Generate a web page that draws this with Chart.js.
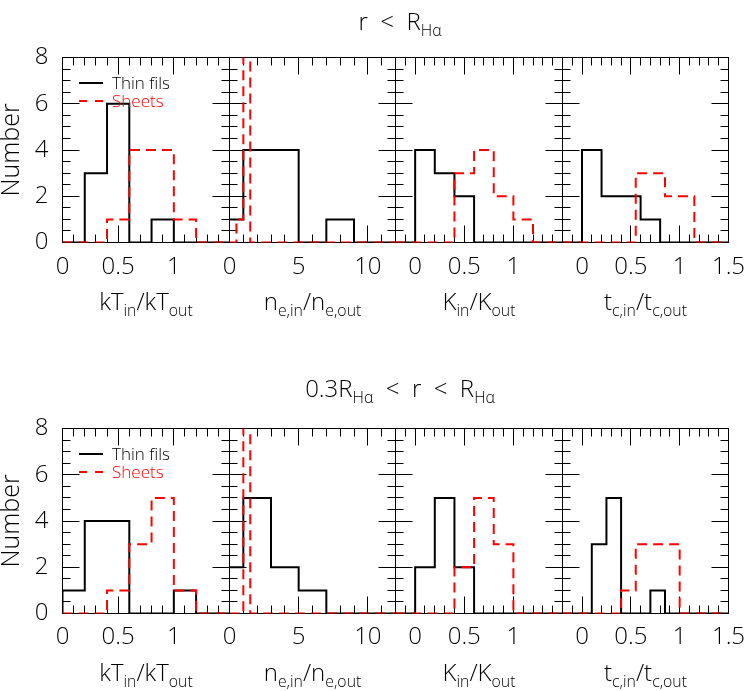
<!DOCTYPE html>
<html><head><meta charset="utf-8">
<script src="https://cdn.jsdelivr.net/npm/chart.js@4.4.1/dist/chart.umd.min.js"></script>
<style>
html,body{margin:0;padding:0;background:#fff;width:747px;height:691px;overflow:hidden;}
#wrap{position:relative;width:747px;height:691px;font-family:"Open Sans",sans-serif;font-weight:300;color:#000}
canvas{position:absolute}
.t{position:absolute;white-space:nowrap;font-size:24px;line-height:1;transform:translate(-50%,-50%)}
.t sub{font-size:0.66em;vertical-align:-0.4em;line-height:0}
.leg{position:absolute;white-space:nowrap;font-size:17px;line-height:1;transform:translateY(-50%)}
.ln{position:absolute;height:2px}
</style></head><body><div id="wrap"></div>
<script>
// ---------- data ----------
// bin edges
const kTEdges      = [0, 0.2, 0.4, 0.6, 0.8, 1.0, 1.2];
const neThinEdges  = [-1, 1, 3, 5, 7, 9, 11];
const neSheetEdges = [0, 0.5, 1.0, 1.5, 2.0];
const KEdges       = [0, 0.2, 0.4, 0.6, 0.8, 1.0, 1.2];
const tcThinEdgesIn  = [0, 0.2, 0.4, 0.6, 0.8];
const tcSheetEdgesIn = [0.55, 0.7, 0.85, 1.0, 1.15];
const tcEdgesOut     = [0.1, 0.25, 0.4, 0.55, 0.7, 0.85, 1.0];

// r < R_Halpha
const inKTThin   = [0, 3, 6, 0, 1, 0];
const inKTSheets = [0, 0, 1, 4, 4, 1];
const inNeThin   = [1, 4, 4, 0, 1, 0];
const inNeSheets = [0, 1, 9, 0];
const inKThin    = [4, 3, 2, 0, 0, 0];
const inKSheets  = [0, 0, 3, 4, 2, 1];
const inTcThin   = [4, 2, 2, 1];
const inTcSheets = [3, 3, 2, 2];

// 0.3 R_Halpha < r < R_Halpha
const outKTThin   = [1, 4, 4, 0, 0, 1];
const outKTSheets = [0, 0, 1, 3, 5, 1];
const outNeThin   = [2, 5, 2, 1, 0, 0];
const outNeSheets = [0, 0, 10, 0];
const outKThin    = [2, 5, 2, 0, 0, 0];
const outKSheets  = [0, 0, 2, 5, 3, 0];
const outTcThin   = [3, 5, 0, 0, 1, 0];
const outTcSheets = [0, 0, 1, 3, 3, 3];

// axes
const xRanges   = [[0, 1.5], [0, 12], [-0.2, 1.5], [-0.2, 1.5]];
const xTickVals = [[0, 0.5, 1], [0, 5, 10], [0, 0.5, 1], [0, 0.5, 1, 1.5]];
const xMinor    = [0.1, 1, 0.1, 0.1];
const xMajor    = [0.5, 5, 0.5, 0.5];
const yRange    = [0, 8];
const yTickVals = [0, 2, 4, 6, 8];
const seriesNames = ['Thin fils', 'Sheets'];

const panels = [
  [[kTEdges, inKTThin, kTEdges, inKTSheets], [neThinEdges, inNeThin, neSheetEdges, inNeSheets],
   [KEdges, inKThin, KEdges, inKSheets], [tcThinEdgesIn, inTcThin, tcSheetEdgesIn, inTcSheets]],
  [[kTEdges, outKTThin, kTEdges, outKTSheets], [neThinEdges, outNeThin, neSheetEdges, outNeSheets],
   [KEdges, outKThin, KEdges, outKSheets], [tcEdgesOut, outTcThin, tcEdgesOut, outTcSheets]]
];

// ---------- layout ----------
const colLeft  = [62.5, 229.5, 395.5, 562.5];
const colRight = [229.5, 395.5, 562.5, 728.5];
const rowTop    = [57.5, 428.5];
const rowBottom = [242.5, 613.5];
const FONT = "'Open Sans', sans-serif";

function histPoints(edges, counts, xmin, xmax) {
  const pts = [{x: xmin, y: 0}, {x: edges[0], y: 0}];
  for (let k = 0; k < counts.length; k++) pts.push({x: edges[k + 1], y: counts[k]});
  pts.push({x: xmax, y: 0});
  return pts;
}

const frameTicks = {
  id: 'frameTicks',
  beforeDatasetsDraw(chart) {
    const o = chart.options.plugins.frameTicks;
    const {ctx, chartArea: a} = chart;
    const x = chart.scales.x, y = chart.scales.y;
    ctx.save();
    ctx.strokeStyle = '#000';
    ctx.lineWidth = 1;
    ctx.strokeRect(a.left, a.top, a.right - a.left, a.bottom - a.top);
    ctx.beginPath();
    const loop = (min, max, minor, major, fn) => {
      const k0 = Math.ceil(min / minor - 1e-6), k1 = Math.floor(max / minor + 1e-6);
      for (let k = k0; k <= k1; k++) {
        const v = k * minor, r = v / major;
        fn(v, Math.abs(r - Math.round(r)) < 1e-6);
      }
    };
    loop(x.min, x.max, o.minor, o.major, (v, big) => {
      const p = Math.floor(x.getPixelForValue(v)) + 0.5, L = big ? 17 : 8;
      ctx.moveTo(p, a.bottom); ctx.lineTo(p, a.bottom - L);
      ctx.moveTo(p, a.top); ctx.lineTo(p, a.top + L);
    });
    loop(y.min, y.max, 0.5, 2, (v, big) => {
      const p = Math.floor(y.getPixelForValue(v)) + 0.5, L = big ? 17 : 8;
      ctx.moveTo(a.left, p); ctx.lineTo(a.left + L, p);
      ctx.moveTo(a.right, p); ctx.lineTo(a.right - L, p);
    });
    ctx.stroke();
    ctx.restore();
  }
};

const wrap = document.getElementById('wrap');
const X_AXIS_H = 50;

for (let r = 0; r < 2; r++) {
  for (let c = 0; c < 4; c++) {
    const [eT, cT, eS, cS] = panels[r][c];
    const [xmin, xmax] = xRanges[c];
    const cl = c === 0 ? 0 : Math.floor(colLeft[c]) - 30;
    const padLeft = c === 0 ? 0 : colLeft[c] - cl;
    const yW = c === 0 ? colLeft[0] : 0;
    const ct = Math.floor(rowTop[r]) - 25;
    const padTop = rowTop[r] - ct;
    const cw = Math.ceil(colRight[c]) + 30 - cl;
    const padRight = cl + cw - colRight[c];
    const ch = Math.ceil(rowBottom[r] - ct + X_AXIS_H + 5);
    const padBottom = ch - X_AXIS_H - (rowBottom[r] - ct);

    const cv = document.createElement('canvas');
    cv.width = cw; cv.height = ch;
    cv.style.left = cl + 'px'; cv.style.top = ct + 'px';
    cv.style.width = cw + 'px'; cv.style.height = ch + 'px';
    wrap.appendChild(cv);

    const xTicks = xTickVals[c];
    new Chart(cv, {
      type: 'line',
      data: {
        datasets: [
          {label: seriesNames[0], data: histPoints(eT, cT, xmin, xmax), borderColor: '#000',
           borderWidth: 2, stepped: 'after', pointRadius: 0, fill: false, order: 1},
          {label: seriesNames[1], data: histPoints(eS, cS, xmin, xmax), borderColor: '#ff0000',
           borderWidth: 2, borderDash: [10, 6], stepped: 'after', pointRadius: 0, fill: false, order: 0}
        ]
      },
      options: {
        responsive: false, animation: false, events: [],
        layout: {autoPadding: false, padding: {left: padLeft, top: padTop, right: padRight, bottom: padBottom}},
        plugins: {legend: {display: false}, tooltip: {enabled: false},
                  frameTicks: {minor: xMinor[c], major: xMajor[c]}},
        scales: {
          x: {
            type: 'linear', min: xmin, max: xmax,
            grid: {display: false, drawTicks: false}, border: {display: false},
            afterBuildTicks: s => { s.ticks = xTicks.map(v => ({value: v})); },
            afterFit: s => { s.height = X_AXIS_H; s.paddingLeft = 0; s.paddingRight = 0; },
            ticks: {autoSkip: false, maxRotation: 0, padding: r === 0 ? 10 : 9, color: '#000',
                    font: {family: FONT, size: 24, weight: '300'}, callback: v => String(v)}
          },
          y: {
            type: 'linear', min: yRange[0], max: yRange[1], display: c === 0,
            grid: {display: false, drawTicks: false}, border: {display: false},
            afterBuildTicks: s => { s.ticks = yTickVals.map(v => ({value: v})); },
            afterFit: s => { s.width = yW; s.paddingTop = 0; s.paddingBottom = 0; },
            ticks: {padding: 14, color: '#000', font: {family: FONT, size: 24, weight: '300'},
                    callback: v => String(v)},
            title: {display: true, text: 'Number', color: '#000', padding: {top: -3, bottom: 0},
                    font: {family: FONT, size: 25, weight: '300'}}
          }
        }
      },
      plugins: [frameTicks]
    });
  }
}

// ---------- text (titles, axis titles, legends) ----------
function addText(html, x, y, cls, color) {
  const d = document.createElement('div');
  d.className = cls; d.innerHTML = html;
  d.style.left = x + 'px'; d.style.top = y + 'px';
  if (color) d.style.color = color;
  wrap.appendChild(d);
  return d;
}
const rowTitles = ['r &nbsp;&lt;&nbsp; R<sub>H&alpha;</sub>',
                   '0.3R<sub>H&alpha;</sub> &nbsp;&lt;&nbsp; r &nbsp;&lt;&nbsp; R<sub>H&alpha;</sub>'];
const rowTitleY = [21, 388];
const xTitles = ['kT<sub>in</sub>/kT<sub>out</sub>', 'n<sub>e,in</sub>/n<sub>e,out</sub>',
                 'K<sub>in</sub>/K<sub>out</sub>', 't<sub>c,in</sub>/t<sub>c,out</sub>'];
for (let r = 0; r < 2; r++) {
  addText(rowTitles[r], 400, rowTitleY[r], 't');
  for (let c = 0; c < 4; c++) {
    addText(xTitles[c], (colLeft[c] + colRight[c]) / 2, rowBottom[r] + 58, 't');
  }
  // legend
  const ly1 = rowTop[r] + 24, ly2 = rowTop[r] + 42;
  const l1 = document.createElement('div'); l1.className = 'ln';
  l1.style.cssText += `left:79px;top:${Math.round(ly1)}px;width:24px;background:#000`;
  wrap.appendChild(l1);
  for (const dx of [79, 95]) {
    const l2 = document.createElement('div'); l2.className = 'ln';
    l2.style.cssText += `left:${dx}px;top:${Math.round(ly2)}px;width:8px;background:#ff0000`;
    wrap.appendChild(l2);
  }
  addText(seriesNames[0], 112, ly1, 'leg');
  addText(seriesNames[1], 112, ly2, 'leg', '#ff0000');
}
</script></body></html>
